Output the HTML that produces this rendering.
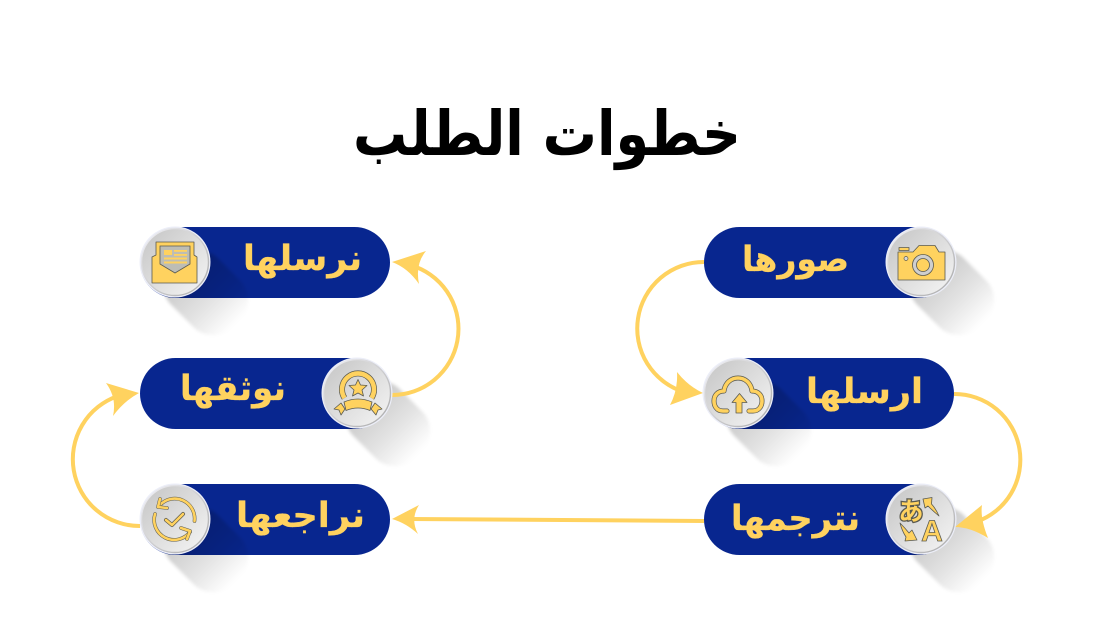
<!DOCTYPE html>
<html lang="ar">
<head>
<meta charset="utf-8">
<style>
html,body{margin:0;padding:0;background:#fff;width:1094px;height:625px;overflow:hidden}
svg{display:block}
text{font-family:"DejaVu Sans",sans-serif;font-weight:bold;direction:rtl;unicode-bidi:plaintext}
.l{fill:#ffd25f;stroke:#ffd25f;stroke-width:.3;font-size:35px}
.c{fill:none;stroke:#ffd25f;stroke-width:4}
.a{fill:#ffd25f}
.i{fill:#ffd25f;stroke:#5a5a50;stroke-width:.8;stroke-linejoin:round}
.o{fill:none;stroke:#5a5a50;stroke-width:5;stroke-linecap:round;stroke-linejoin:round}
.p{fill:none;stroke:#ffd25f;stroke-width:3.6;stroke-linecap:round;stroke-linejoin:round}
.o2{fill:none;stroke:#5a5a50;stroke-width:3.6;stroke-linecap:round;stroke-linejoin:round}
.p2{fill:none;stroke:#ffd25f;stroke-width:2.6;stroke-linecap:round;stroke-linejoin:round}
.o3{fill:none;stroke:#5a5a50;stroke-width:6;stroke-linecap:butt}
.p3{fill:none;stroke:#ffd25f;stroke-width:4.6;stroke-linecap:butt}
</style>
</head>
<body>
<svg width="1094" height="625" viewBox="0 0 1094 625" xmlns="http://www.w3.org/2000/svg">
<defs>
<linearGradient id="s" x1="0" x2="1" y1="0" y2="0">
<stop offset="0" stop-color="#000" stop-opacity=".24"/>
<stop offset=".6" stop-color="#000" stop-opacity=".11"/>
<stop offset="1" stop-color="#000" stop-opacity="0"/>
</linearGradient>
<linearGradient id="g" x1="0" y1="0" x2="1" y2="1">
<stop offset="0" stop-color="#c4c4c4"/>
<stop offset="1" stop-color="#f6f6f6"/>
</linearGradient>
<linearGradient id="b" x1="0" y1="0" x2="1" y2="1">
<stop offset="0" stop-color="#f3f3f8"/>
<stop offset="1" stop-color="#a8a8a8"/>
</linearGradient>
<filter id="bl" x="-20%" y="-20%" width="140%" height="140%"><feGaussianBlur stdDeviation="1.5"/></filter>
<g id="sh"><rect x="0" y="-33" width="87" height="66" rx="28" fill="url(#s)" filter="url(#bl)" transform="rotate(45)"/></g>
<g id="ci"><circle r="35.500" fill="#eceef8"/><circle r="33.5" fill="url(#g)" stroke="url(#b)" stroke-width="1.400"/></g>
</defs>

<!-- title -->
<text x="547" y="155" text-anchor="middle" textLength="388" lengthAdjust="spacingAndGlyphs" style="font-size:62px;fill:#000">خطوات الطلب</text>

<!-- pills -->
<rect x="704" y="227" width="250" height="71" rx="35.5" fill="#08268f"/>
<rect x="704" y="358" width="250" height="71" rx="35.5" fill="#08268f"/>
<rect x="704" y="484" width="250" height="71" rx="35.5" fill="#08268f"/>
<rect x="140" y="227" width="250" height="71" rx="35.5" fill="#08268f"/>
<rect x="140" y="358" width="250" height="71" rx="35.5" fill="#08268f"/>
<rect x="140" y="484" width="250" height="71" rx="35.5" fill="#08268f"/>

<!-- shadows -->
<use href="#sh" x="921" y="262"/>
<use href="#sh" x="738" y="393"/>
<use href="#sh" x="921" y="519"/>
<use href="#sh" x="175" y="262"/>
<use href="#sh" x="357" y="393"/>
<use href="#sh" x="175" y="519"/>

<!-- labels -->
<text class="l" x="795.5" y="271" text-anchor="middle" textLength="107" lengthAdjust="spacingAndGlyphs">صورها</text>
<text class="l" x="864.5" y="403" text-anchor="middle" textLength="117" lengthAdjust="spacingAndGlyphs">ارسلها</text>
<text class="l" x="795.5" y="530" text-anchor="middle" textLength="129" lengthAdjust="spacingAndGlyphs">نترجمها</text>
<text class="l" x="302.5" y="270" text-anchor="middle" textLength="119" lengthAdjust="spacingAndGlyphs">نرسلها</text>
<text class="l" x="233" y="400" text-anchor="middle" textLength="106" lengthAdjust="spacingAndGlyphs">نوثقها</text>
<text class="l" x="300.5" y="527" text-anchor="middle" textLength="129" lengthAdjust="spacingAndGlyphs">نراجعها</text>

<!-- connectors -->
<path class="c" d="M704 262A66.500 66.500 0 0 0 684 392"/>
<path class="a" d="M703 393L670 405Q678 390 677 372Q688 386 703 393Z"/>
<path class="c" d="M954 394A65.800 65.800 0 0 1 976 522"/>
<path class="a" d="M955 527L982 505Q980 518 988 538Q970 527 955 527Z"/>
<path class="c" d="M704 521L410 519"/>
<path class="a" d="M392 519L419 505Q410 519 418 534Q406 523 392 519Z"/>
<path class="c" d="M140 526A66.800 66.800 0 0 1 118 396"/>
<path class="a" d="M139 393L106 383Q117 398 113 416Q124 401 139 393Z"/>
<path class="c" d="M392 395A66.200 66.200 0 0 0 416 267"/>
<path class="a" d="M392 262L426 251Q415 264 419 284Q408 268 392 262Z"/>

<!-- circles -->
<use href="#ci" x="921" y="262"/>
<use href="#ci" x="738" y="393"/>
<use href="#ci" x="921" y="519"/>
<use href="#ci" x="175" y="262"/>
<use href="#ci" x="357" y="393"/>
<use href="#ci" x="175" y="519"/>

<!-- camera -->
<g>
<path class="i" d="M898 252H913L919 245.500H935L939 252H945V280H898Z"/>
<rect class="i" x="899" y="247.500" width="10" height="3"/>
<circle cx="923" cy="265" r="10.500" fill="#cfcfcf" stroke="#5a5a50" stroke-width=".8"/>
<circle cx="923" cy="265" r="6.500" fill="#ffd25f" stroke="#5a5a50" stroke-width=".8"/>
<circle cx="906" cy="258.500" r="2" fill="#d8d8d8" stroke="#5a5a50" stroke-width=".7"/>
</g>

<!-- cloud upload -->
<g>
<path class="o" d="M727 411H723C716 411 714 405 714 401C714 395 718 391 724 391C725 383 731 378 738 378C745 378 751 383 752 391C758 391 762 395 762 401C762 406 759 411 753 411H749"/>
<path class="p" d="M727 411H723C716 411 714 405 714 401C714 395 718 391 724 391C725 383 731 378 738 378C745 378 751 383 752 391C758 391 762 395 762 401C762 406 759 411 753 411H749"/>
<path class="i" d="M739.500 393.500L747 402.500H742V413H736V402.500H732Z"/>
</g>

<!-- translate -->
<g>
<text x="911" y="520" text-anchor="middle" style="font-family:'Noto Sans CJK JP',sans-serif;font-size:25px;fill:#ffd25f;stroke:#5a5a50;stroke-width:2.600;paint-order:stroke;font-weight:bold">あ</text>
<text x="932" y="541" text-anchor="middle" style="font-family:'Liberation Sans',sans-serif;font-size:30px;fill:#ffd25f;stroke:#5a5a50;stroke-width:.8;font-weight:bold">A</text>
<path class="i" d="M923 499L932 497.500L931.500 504Q936 509 939 516Q933 511 928 506L925 508Z"/>
<path class="i" d="M917 540L905 541L906 537Q902 531 900 523Q905 528 909 533L912 530Z"/>
</g>

<!-- envelope -->
<g>
<path class="i" d="M152 257L156 255V242H194V255L197 257V283H152Z"/>
<path d="M160 246H190V264L175 273L160 264Z" fill="#bdbdb5" stroke="#5a5a50" stroke-width=".8"/>
<rect x="164" y="250" width="8" height="5" class="a"/>
<rect x="174" y="250" width="13" height="1.800" class="a"/>
<rect x="174" y="254" width="13" height="1.800" class="a"/>
<rect x="164" y="257.500" width="23" height="2" class="a"/>
<rect x="164" y="261.500" width="23" height="2" class="a"/>
</g>

<!-- award -->
<g>
<path class="o3" d="M344.500 398A16 16 0 1 1 371.500 398"/>
<path class="p3" d="M344.500 398A16 16 0 1 1 371.500 398"/>
<path class="i" d="M358 379.500L360.500 385L367 385.500L362 390L363.500 396L358 393L352.500 396L354 390L349 385.500L355.500 385Z"/>
<path class="i" d="M344 402Q358 396 372 402L370 410.500Q358 405.500 346 410.500Z"/>
<path class="i" d="M341 403L334 409L339 410L341 415L345 409Z"/>
<path class="i" d="M375 403L382 409L378 410L376 415L371 409Z"/>
</g>

<!-- refresh check -->
<g>
<path class="o2" d="M160 505A20 20 0 0 1 194.500 521"/>
<path class="p2" d="M160 505A20 20 0 0 1 194.500 521"/>
<path class="o2" d="M155 514A20 20 0 0 0 190 532"/>
<path class="p2" d="M155 514A20 20 0 0 0 190 532"/>
<path class="o2" d="M160 499L158 507L167 508"/>
<path class="p2" d="M160 499L158 507L167 508"/>
<path class="o2" d="M181 528L190 531L187 539"/>
<path class="p2" d="M181 528L190 531L187 539"/>
<path class="o" style="stroke-width:4" d="M166 520L172 525L183 514"/>
<path class="p2" d="M166 520L172 525L183 514"/>
</g>
</svg>
</body>
</html>
